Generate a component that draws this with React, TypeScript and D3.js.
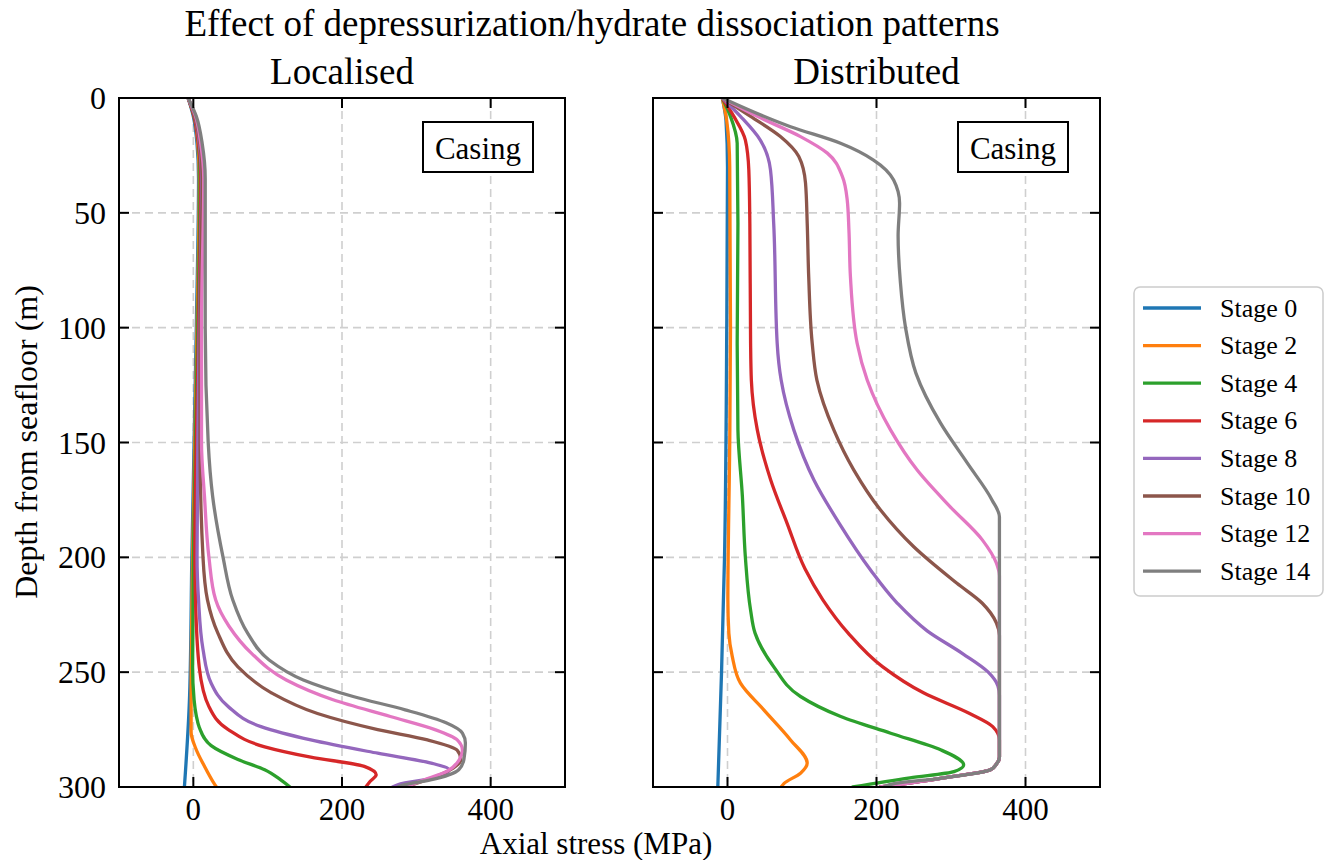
import React from 'react'
import * as d3 from 'd3'

// depth (m), axial stress (MPa) pairs
const stageNames = ['Stage 0', 'Stage 2', 'Stage 4', 'Stage 6', 'Stage 8', 'Stage 10', 'Stage 12', 'Stage 14']
const stageColors = ['#1f77b4', '#ff7f0e', '#2ca02c', '#d62728', '#9467bd', '#8c564b', '#e377c2', '#7f7f7f']
const depthTicks = [0, 50, 100, 150, 200, 250, 300]
const stressTicks = [0, 200, 400]
const panelTitles = ['Localised', 'Distributed']

const localised0 = [[0, -7], [8, 0], [20, 5], [35, 7], [100, 4], [200, -2], [260, -5], [300, -12]]
const localised2 = [[0, -7], [8, 1], [20, 6], [35, 8], [100, 5], [200, -1], [260, -3], [276, -3], [283, 3], [291, 15], [298, 27], [300, 31]]
const localised4 = [[0, -7], [8, 1], [20, 7], [35, 9], [100, 6], [200, 0], [248, -1], [262, 1], [269, 4], [274, 8], [282, 24], [288, 60], [292.5, 96], [297, 118], [300, 130]]
const localised6 = [[0, -7], [8, 1], [20, 7], [35, 10], [100, 7], [200, 2], [220, 3], [248, 8], [265, 21], [275, 47], [282.5, 96], [287, 158], [291, 230], [294.7, 246], [297.5, 238], [300, 232]]
const localised8 = [[0, -7], [8, 2], [20, 8], [35, 11], [100, 8], [150, 6], [200, 5], [218.5, 7], [240, 13], [254.8, 24], [265, 47], [273.7, 91], [279.5, 158], [285.3, 248], [289.6, 320], [292.5, 344], [295.4, 333], [299, 275], [300, 268]]
const localised10 = [[0, -7], [8, 2], [20, 9], [35, 12], [100, 9], [150, 9], [200, 13], [218.5, 19], [233, 33], [247.7, 60], [259, 105], [268, 167], [275, 248], [279.5, 315], [284, 355], [288, 360], [291.7, 350], [296, 322], [300, 285]]
const localised12 = [[0, -7], [8, 3], [20, 10], [35, 14], [100, 11], [150, 11], [173.5, 15], [200, 21], [218.5, 30], [230, 48], [241.7, 78], [253.4, 125], [262, 188], [269.3, 265], [275, 325], [279.5, 355], [284, 362], [288, 358], [293, 342], [297, 310], [300, 285]]
const localised14 = [[0, -7], [8, 4], [20, 12], [35, 16], [100, 16], [150, 20], [173.5, 26], [200, 40], [218.5, 53], [233, 73], [244.7, 102], [253.4, 148], [260.6, 215], [266.4, 285], [272, 340], [276.5, 362], [280.8, 366], [288, 364], [292.5, 357], [296.9, 319], [299, 284], [300, 275]]

const distributed0 = [[0, -7], [10, -2], [30, 0], [100, -1], [200, -4], [250, -8], [300, -13]]
const distributed2 = [[0, -7], [10, -1], [30, 3], [100, 4], [150, 3], [218.5, 0.5], [233, 1.8], [243, 6.3], [254.8, 17.4], [266.4, 48.7], [279.5, 84.6], [289.6, 107], [294, 98], [298.4, 76], [300, 72]]
const distributed4 = [[0, -7], [8, 4], [19.7, 13], [54.6, 14], [106.8, 13], [144.5, 14], [173.6, 20], [200, 24], [223, 31], [233, 37], [247.6, 62], [260.6, 98], [269.3, 152], [276.6, 219], [283.8, 286], [290.4, 317], [293.3, 304], [296, 245], [300, 168]]
const distributed6 = [[0, -7], [8, 8.5], [18.3, 24], [31.3, 28.6], [54.6, 30], [106.8, 31], [122.8, 32], [144.5, 40], [166.3, 58], [185.2, 80], [205, 104], [218.5, 128], [233, 162], [247.6, 208], [259, 263], [268, 325], [273.7, 356], [279.5, 365], [287, 365], [290, 361], [292.5, 353], [296.2, 286], [300, 205]]
const distributed8 = [[0, -7], [8, 17.4], [18.3, 44], [31.3, 57.7], [54.6, 62], [106.8, 66.7], [122.8, 72], [144.5, 89], [166.3, 116], [185.2, 150], [205.5, 192], [220, 228], [232, 268], [242, 316], [250, 350], [256, 363], [260, 365], [287, 365], [290, 361], [292.5, 353], [296.2, 286], [300, 205]]
const distributed10 = [[0, -7], [8, 31], [16.8, 71], [25.5, 95.7], [37, 104.7], [54.6, 107], [77.8, 109], [106.8, 113.7], [122.8, 120], [144.5, 142.7], [162, 169.6], [179.4, 205.4], [195.4, 250], [211.3, 308], [220, 342], [228.6, 361], [234, 365], [287, 365], [290, 361], [292.5, 353], [296.2, 286], [300, 205]]
const distributed12 = [[0, -7], [8, 40], [16.8, 98], [24, 134], [34, 154], [44.4, 160.7], [57.5, 163], [77.8, 165], [106.8, 174], [122.8, 187.5], [144.5, 218.8], [162, 254.6], [178, 299], [192.4, 342], [202.6, 361], [208, 365], [287, 365], [290, 361], [292.5, 353], [296.2, 286], [300, 205]]
const distributed14 = [[0, -7], [12.5, 84.6], [19.7, 151.7], [27, 196], [35.7, 223], [45.8, 231], [60, 229], [80, 232], [100, 239], [119.9, 253], [141.6, 286], [159, 322], [175, 355], [182.3, 365], [287, 365], [290, 361], [292.5, 353], [296.2, 286], [298.4, 225], [300, 210]]

const localisedSeries = [localised0, localised2, localised4, localised6, localised8, localised10, localised12, localised14]
const distributedSeries = [distributed0, distributed2, distributed4, distributed6, distributed8, distributed10, distributed12, distributed14]

const font = '"Liberation Serif", "Times New Roman", serif'
const top = 98
const bottom = 787
const panels = [
    { left: 119, right: 565, series: localisedSeries, showY: true },
    { left: 653, right: 1100, series: distributedSeries, showY: false },
]

function Panel({ p, idx }) {
    const x = d3.scaleLinear().domain([-100, 500]).range([p.left, p.right])
    const y = d3.scaleLinear().domain([0, 300]).range([top, bottom])
    const line = d3.line().x(d => x(d[1])).y(d => y(d[0])).curve(d3.curveMonotoneY)
    const tl = 10
    const cx = (p.left + p.right) / 2
    return (
        <g>
            <defs>
                <clipPath id={'clip' + idx}>
                    <rect x={p.left} y={top} width={p.right - p.left} height={bottom - top} />
                </clipPath>
            </defs>
            {/* grid */}
            {stressTicks.map(t => (
                <line key={'gx' + t} x1={x(t)} x2={x(t)} y1={top} y2={bottom} stroke="#cfcfcf" strokeWidth={1.6} strokeDasharray="8,5" />
            ))}
            {depthTicks.slice(1, -1).map(t => (
                <line key={'gy' + t} x1={p.left} x2={p.right} y1={y(t)} y2={y(t)} stroke="#cfcfcf" strokeWidth={1.6} strokeDasharray="8,5" />
            ))}
            <g clipPath={`url(#clip${idx})`}>
                {p.series.map((s, i) => (
                    <path key={i} d={line(s)} fill="none" stroke={stageColors[i]} strokeWidth={3.3} strokeLinejoin="round" strokeLinecap="round" />
                ))}
            </g>
            {/* ticks */}
            {stressTicks.map(t => (
                <g key={'tx' + t}>
                    <line x1={x(t)} x2={x(t)} y1={bottom} y2={bottom - tl} stroke="#000" strokeWidth={2} />
                    <line x1={x(t)} x2={x(t)} y1={top} y2={top + tl} stroke="#000" strokeWidth={2} />
                    <text x={x(t)} y={820} textAnchor="middle" fontFamily={font} fontSize={31}>{t}</text>
                </g>
            ))}
            {depthTicks.map(t => (
                <g key={'ty' + t}>
                    <line x1={p.left} x2={p.left + tl} y1={y(t)} y2={y(t)} stroke="#000" strokeWidth={2} />
                    <line x1={p.right} x2={p.right - tl} y1={y(t)} y2={y(t)} stroke="#000" strokeWidth={2} />
                    {p.showY && (
                        <text x={p.left - 13} y={y(t)} textAnchor="end" dominantBaseline="central" fontFamily={font} fontSize={32}>{t}</text>
                    )}
                </g>
            ))}
            <rect x={p.left} y={top} width={p.right - p.left} height={bottom - top} fill="none" stroke="#000" strokeWidth={2} />
            {/* label box */}
            <rect x={p.right - 142} y={122} width={110} height={50} fill="#fff" stroke="#000" strokeWidth={2} />
            <text x={p.right - 87} y={148} textAnchor="middle" dominantBaseline="central" fontFamily={font} fontSize={31}>Casing</text>
            <text x={cx} y={84} textAnchor="middle" fontFamily={font} fontSize={37}>{panelTitles[idx]}</text>
        </g>
    )
}

export default function App() {
    return (
        <svg width={1330} height={860} style={{ position: 'absolute', left: 0, top: 0, background: '#fff' }}>
            <rect width={1330} height={860} fill="#fff" />
            <text x={592} y={36} textAnchor="middle" fontFamily={font} fontSize={37}>Effect of depressurization/hydrate dissociation patterns</text>
            {panels.map((p, i) => <Panel key={i} p={p} idx={i} />)}
            <text x={596} y={854} textAnchor="middle" fontFamily={font} fontSize={31}>Axial stress (MPa)</text>
            <text transform="translate(37,442) rotate(-90)" textAnchor="middle" fontFamily={font} fontSize={32}>Depth from seafloor (m)</text>
            {/* legend */}
            <rect x={1134} y={287} width={189} height={309} rx={6} fill="#fff" stroke="#cccccc" strokeWidth={1.5} />
            {stageNames.map((n, i) => (
                <g key={n}>
                    <line x1={1143} x2={1201} y1={308 + i * 37.6} y2={308 + i * 37.6} stroke={stageColors[i]} strokeWidth={3.3} />
                    <text x={1220} y={308 + i * 37.6} dominantBaseline="central" fontFamily={font} fontSize={26}>{n}</text>
                </g>
            ))}
        </svg>
    )
}
